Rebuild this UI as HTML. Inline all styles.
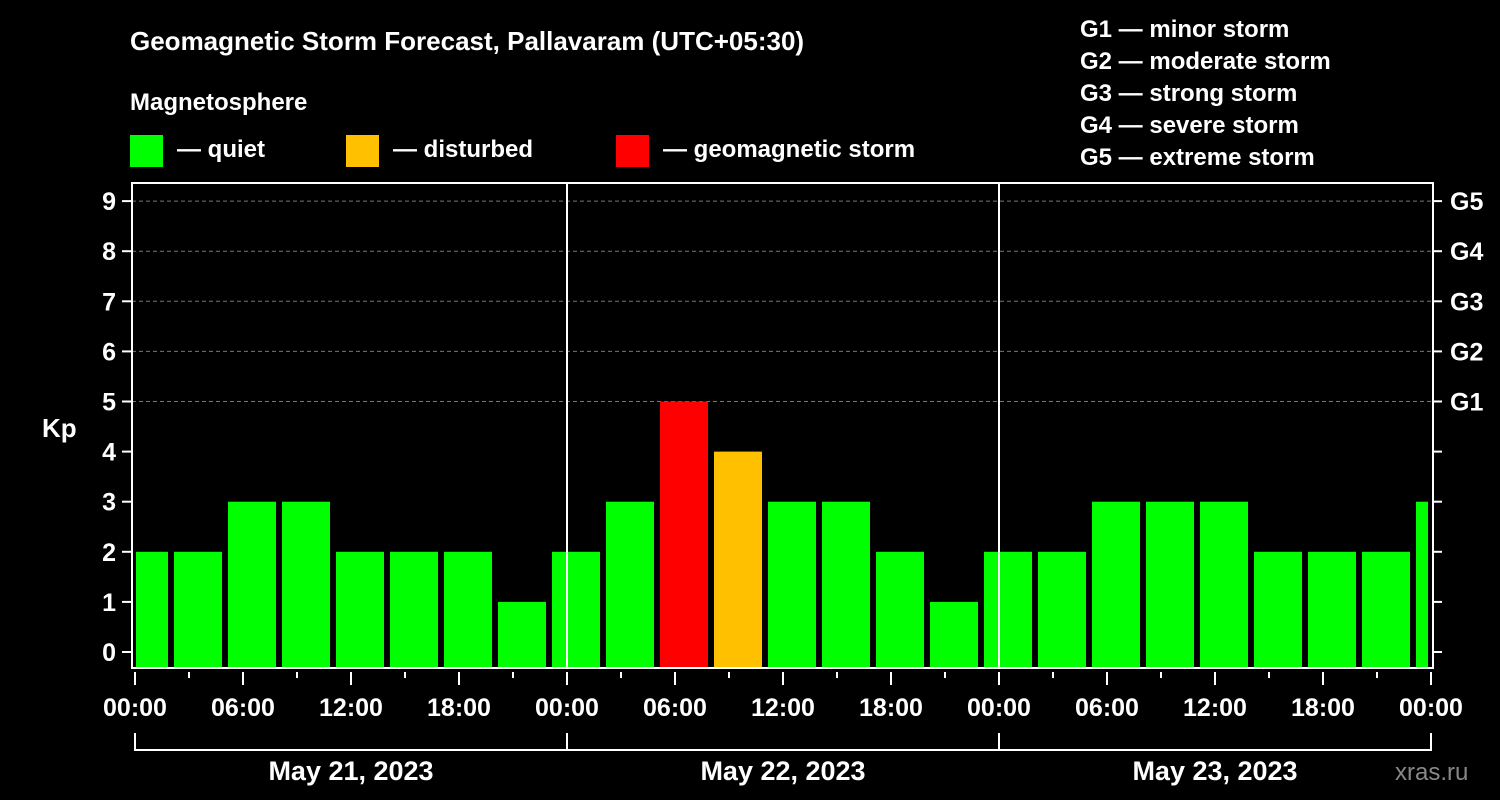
<!DOCTYPE html>
<html><head><meta charset="utf-8"><style>
html,body{margin:0;padding:0;background:#000;width:1500px;height:800px;overflow:hidden}
svg text{font-family:"Liberation Sans",Arial,sans-serif;font-weight:bold;fill:#fff}
</style></head><body>
<svg id="chart" width="1500" height="800" viewBox="0 0 1500 800" xmlns="http://www.w3.org/2000/svg">
<text x="130" y="50" font-size="26">Geomagnetic Storm Forecast, Pallavaram (UTC+05:30)</text>
<text x="130" y="110" font-size="24">Magnetosphere</text>
<g>
<rect x="130" y="135" width="33" height="32" fill="#00ff00"/>
<text x="177" y="157" font-size="24">— quiet</text>
<rect x="346" y="135" width="33" height="32" fill="#ffc000"/>
<text x="393" y="157" font-size="24">— disturbed</text>
<rect x="616" y="135" width="33" height="32" fill="#ff0000"/>
<text x="663" y="157" font-size="24">— geomagnetic storm</text>
</g>
<g font-size="24">
<text x="1080" y="37">G1 — minor storm</text>
<text x="1080" y="69">G2 — moderate storm</text>
<text x="1080" y="101">G3 — strong storm</text>
<text x="1080" y="133">G4 — severe storm</text>
<text x="1080" y="165">G5 — extreme storm</text>
</g>
<text x="42" y="437" font-size="26">Kp</text>
<text x="1395" y="780" font-size="24" fill="#888" style="fill:#888;font-weight:normal">xras.ru</text>
<g id="plot"></g>
</svg>
<script>
const kpValues=[2,2,3,3,2,2,2,1,2,3,5,4,3,3,2,1,2,2,3,3,3,2,2,2,3];
const yTicks=[0,1,2,3,4,5,6,7,8,9];
const gLabels=["G1","G2","G3","G4","G5"];
const xTickLabels=["00:00","06:00","12:00","18:00","00:00","06:00","12:00","18:00","00:00","06:00","12:00","18:00","00:00"];
const dayLabels=["May 21, 2023","May 22, 2023","May 23, 2023"];
const NS="http://www.w3.org/2000/svg";
const L=132,R=1433,T=183,B=668,x0=135,pxH=18;
const y=v=>652-v*50.1;
const x=h=>x0+h*pxH;
const g=document.getElementById('plot');
function mk(t,a){const e=document.createElementNS(NS,t);for(const k in a)e.setAttribute(k,a[k]);g.appendChild(e);return e;}
// grid
for(let v=5;v<=9;v++){const e=mk('line',{x1:L,x2:R,y1:y(v),y2:y(v),stroke:'#777','stroke-dasharray':'4,3','stroke-width':1});

}
// bars
kpValues.forEach((v,k)=>{const c=x(0.5+3*k);let a=c-24,b=c+24;a=Math.max(a,L+4);b=Math.min(b,R-5);
const col=v>=5?'#ff0000':(v>=4?'#ffc000':'#00ff00');
const e=mk('rect',{x:a,y:y(v),width:b-a,height:B-y(v),fill:col});

});
// day separators
[1,2].forEach(d=>{const e=mk('line',{x1:x(24*d),x2:x(24*d),y1:T,y2:B,stroke:'#fff','stroke-width':2});

});
// frame
const f=mk('rect',{x:L,y:T,width:R-L,height:B-T,fill:'none',stroke:'#fff','stroke-width':2});


// y ticks
yTicks.forEach(v=>{const e=mk('line',{x1:122,x2:L,y1:y(v),y2:y(v),stroke:'#fff','stroke-width':2});


const r=mk('line',{x1:R,x2:1442,y1:y(v),y2:y(v),stroke:'#fff','stroke-width':2});


const t=mk('text',{x:116,y:y(v)+9,'font-size':25,'text-anchor':'end'});t.textContent=v;

});
gLabels.forEach((s,i)=>{const t=mk('text',{x:1450,y:y(5+i)+9,'font-size':25});t.textContent=s;

});
// x ticks
for(let h=0;h<=72;h+=3){const major=h%6===0;const e=mk('line',{x1:x(h),x2:x(h),y1:B+4,y2:major?685:678,stroke:'#fff','stroke-width':2});

}
xTickLabels.forEach((s,i)=>{const t=mk('text',{x:x(6*i),y:716,'font-size':25,'text-anchor':'middle'});t.textContent=s;

});
// day bracket
const br=mk('path',{d:`M${x(0)},733V750H${x(72)}V733M${x(24)},733V750M${x(48)},733V750`,fill:'none',stroke:'#fff','stroke-width':2});


dayLabels.forEach((s,i)=>{const t=mk('text',{x:x(24*i+12),y:780,'font-size':27,'text-anchor':'middle'});t.textContent=s;

});
</script>
</body></html>
